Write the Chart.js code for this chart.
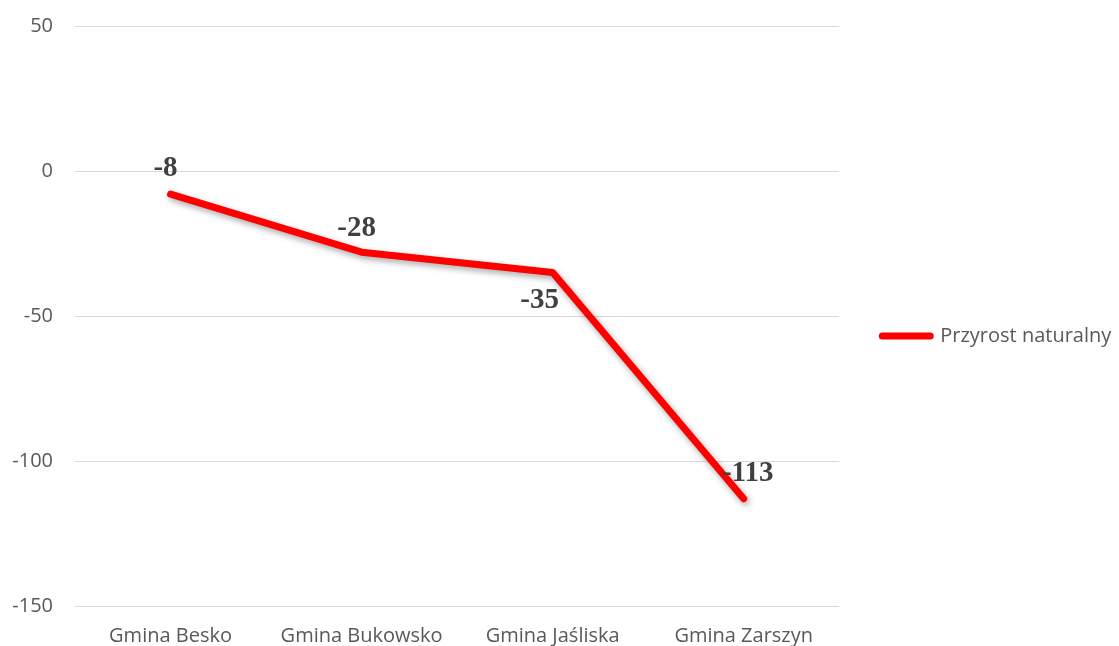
<!DOCTYPE html>
<html>
<head>
<meta charset="utf-8">
<script src="https://cdn.jsdelivr.net/npm/chart.js@4/dist/chart.umd.min.js"></script>
<style>
  html, body { margin:0; padding:0; background:#fff; }
  #wrap { width:1119px; height:646px; position:relative; }
</style>
</head>
<body>
<div id="wrap"><canvas id="chart"></canvas></div>
<script>
// data
const CATEGORIES = ['Gmina Besko', 'Gmina Bukowsko', 'Gmina Jaśliska', 'Gmina Zarszyn'];
const PRZYROST   = [-8, -28, -35, -113];
const SERIES_NAME = 'Przyrost naturalny';

// label nudges (px) so they sit like in the original
const LABEL_OFFSETS = [[-5,-26], [-5,-24], [-13,28], [4,-25]];

const AXIS_FONT = { family:'"Open Sans", sans-serif', size:20 };
const AXIS_COLOR = '#595959';

// soft drop shadow under the line
const shadowPlugin = {
  id: 'lineShadow',
  beforeDatasetsDraw(chart) {
    const ctx = chart.ctx;
    ctx.save();
    ctx.shadowColor = 'rgba(0,0,0,0.35)';
    ctx.shadowBlur = 6;
    ctx.shadowOffsetX = 2;
    ctx.shadowOffsetY = 3;
  },
  afterDatasetsDraw(chart) {
    chart.ctx.restore();
  }
};

// value labels above/below points
const valueLabels = {
  id: 'valueLabels',
  afterDraw(chart) {
    const ctx = chart.ctx;
    const meta = chart.getDatasetMeta(0);
    ctx.save();
    ctx.font = 'bold 29px "Liberation Serif", serif';
    ctx.fillStyle = '#404040';
    ctx.textAlign = 'center';
    ctx.textBaseline = 'middle';
    meta.data.forEach((pt, i) => {
      const [dx, dy] = LABEL_OFFSETS[i];
      ctx.fillText(String(PRZYROST[i]), pt.x + dx, pt.y + dy);
    });
    ctx.restore();
  }
};

new Chart(document.getElementById('chart'), {
  type: 'line',
  data: {
    labels: CATEGORIES,
    datasets: [{
      label: SERIES_NAME,
      data: PRZYROST,
      borderColor: '#ff0000',
      backgroundColor: '#ff0000',
      borderWidth: 7,
      borderCapStyle: 'round',
      borderJoinStyle: 'round',
      pointRadius: 0,
      pointHoverRadius: 0,
      tension: 0,
      fill: false,
    }]
  },
  options: {
    responsive: true,
    maintainAspectRatio: false,
    animation: false,
    layout: { padding: { top: 26, left: 0, right: 0, bottom: 0 } },
    plugins: {
      tooltip: { enabled:false },
      legend: {
        position: 'right',
        labels: {
          usePointStyle: true,
          pointStyle: 'line',
          pointStyleWidth: 48,
          padding: 43,
          color: AXIS_COLOR,
          font: AXIS_FONT,
          generateLabels(chart) {
            const items = Chart.defaults.plugins.legend.labels.generateLabels(chart);
            items.forEach(it => { it.lineCap = 'round'; it.lineWidth = 7; it.strokeStyle = '#ff0000'; });
            return items;
          }
        }
      }
    },
    scales: {
      x: {
        offset: true,
        grid: { display:false, drawTicks:false },
        border: { display:false },
        ticks: { color: AXIS_COLOR, font: AXIS_FONT, padding: 18, maxRotation: 0 },
        afterFit(s) { s.height = 40; s.paddingLeft = 0; s.paddingRight = 0; }
      },
      y: {
        min: -150,
        max: 50,
        ticks: { stepSize: 50, color: AXIS_COLOR, font: AXIS_FONT, padding: 22 },
        grid: { color: '#d9d9d9', lineWidth: 1, drawTicks: false },
        border: { display:false },
        afterFit(s) { s.width = 75; s.paddingTop = 0; s.paddingBottom = 0; }
      }
    }
  },
  plugins: [shadowPlugin, valueLabels]
});
</script>
</body>
</html>
